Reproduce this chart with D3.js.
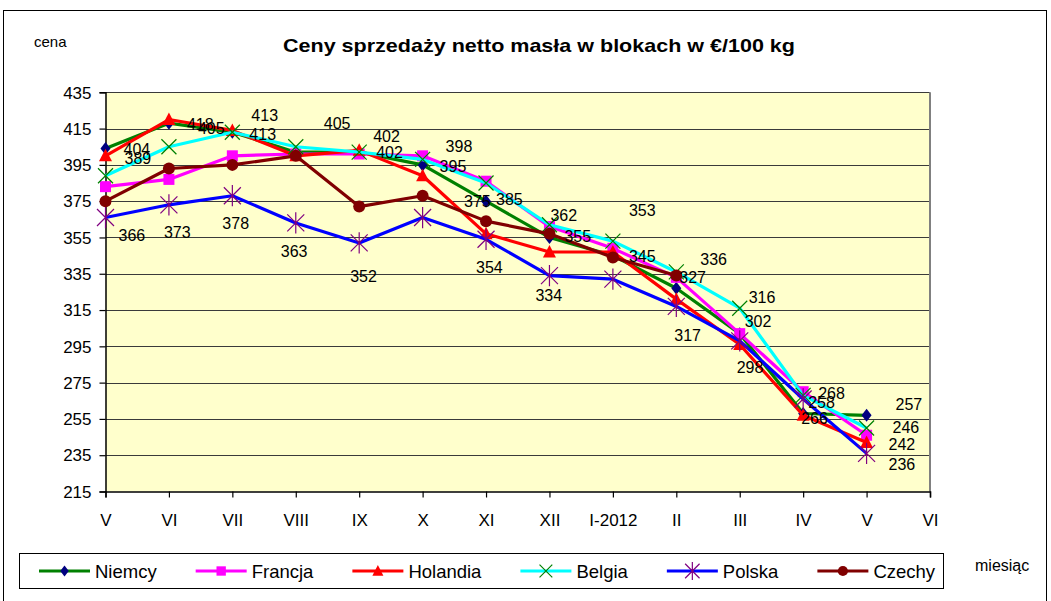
<!DOCTYPE html>
<html><head><meta charset="utf-8">
<script src="https://cdn.jsdelivr.net/npm/d3@7"></script>
<style>
html,body{margin:0;padding:0;background:#fff;}
svg{display:block;font-family:"Liberation Sans",Arial,sans-serif;}
</style></head>
<body><svg id="c" width="1051" height="601"></svg>
<script>
// ---- data ----
const months = ["V","VI","VII","VIII","IX","X","XI","XII","I-2012","II","III","IV","V","VI"];
const yTicks = [215,235,255,275,295,315,335,355,375,395,415,435];
const seriesNames = ["Niemcy","Francja","Holandia","Belgia","Polska","Czechy"];
const niemcy   = [404,418,413,402,402,395,375,355,345,327,302,258,257];
const francja  = [383,387,400,401,401,400,386,361,349,333,302,270,246];
const holandia = [400,420,414,400,403,389,357,347,347,321,296,257,242];
const belgia   = [389,405,413,405,402,398,385,362,353,336,316,268,250];
const polska   = [366,373,378,363,352,366,354,334,332,317,298,266,236];
const czechy   = [375,393,395,400,372,378,364,357,344,334,null,null,null];
const seriesValues = [niemcy,francja,holandia,belgia,polska,czechy];
// which points carry a value label (series, month index)
const labelledPoints = [
 ["Niemcy",0],["Belgia",0],["Polska",0],
 ["Niemcy",1],["Belgia",1],["Polska",1],
 ["Belgia",2],["Niemcy",2],["Polska",2],
 ["Belgia",3],["Polska",3],
 ["Belgia",4],["Niemcy",4],["Polska",4],
 ["Belgia",5],["Niemcy",5],
 ["Niemcy",6],["Belgia",6],["Polska",6],
 ["Belgia",7],["Niemcy",7],["Polska",7],
 ["Belgia",8],["Niemcy",8],
 ["Belgia",9],["Niemcy",9],["Polska",9],
 ["Belgia",10],["Niemcy",10],["Polska",10],
 ["Belgia",11],["Niemcy",11],["Polska",11],
 ["Niemcy",12],["Francja",12],["Holandia",12],["Polska",12]
];

// ---- layout / style ----
const labelOffsets = [
 [18,1],[19,-18],[13,18],
 [18,1],[29,-18],[-5,27],
 [19,-17],[17,2],[-10,28],
 [28,-23],[-15,28],
 [14,-16],[17,0],[-9,33],
 [23,-13],[17,1],
 [-22,0],[10,16],[-10,28],
 [1,-10],[15,-1],[-14,20],
 [16,-31],[16,1],
 [24,-13],[3,-11],[-2,29],
 [9,-11],[5,-12],[-3,26],
 [15,-2],[5,-11],[-2,19],
 [29,-11],[26,-8],[22,2],[22,11]
];
const lineColors = ["#008000","#FF00FF","#FF0000","#00FFFF","#0000FF","#800000"];
const markerColors = ["#000080","#FF00FF","#FF0000","#008000","#800080","#800000"];
const markerTypes = ["diamond","square","triangle","x","star","circle"];

const svg = d3.select("#c");
const plot = {l:105.5, r:930, t:92.3, b:491.5};
const FONT = '"Liberation Sans",Arial,sans-serif';

// outer border
svg.append("rect").attr("x",3.5).attr("y",10.5).attr("width",1043).attr("height",620)
  .attr("fill","#fff").attr("stroke","#000").attr("stroke-width",1);

const x = d3.scalePoint().domain(d3.range(months.length)).range([plot.l, plot.r]).padding(0);
const y = d3.scaleLinear().domain([215,435]).range([plot.b, plot.t]);

// plot background
svg.append("rect").attr("x",plot.l).attr("y",plot.t).attr("width",plot.r-plot.l).attr("height",plot.b-plot.t)
  .attr("fill","#FFFFCC");

// gridlines
svg.append("g").selectAll("line").data(yTicks.filter(v=>v>215)).join("line")
  .attr("x1",plot.l).attr("x2",plot.r)
  .attr("y1",d=>Math.round(y(d))+0.5).attr("y2",d=>Math.round(y(d))+0.5)
  .attr("stroke","#3a3a3a").attr("stroke-width",1);
// right border
svg.append("line").attr("x1",plot.r).attr("x2",plot.r).attr("y1",plot.t).attr("y2",plot.b)
  .attr("stroke","#808080").attr("stroke-width",2);

// axes
const yAxis = d3.axisLeft(y).tickValues(yTicks).tickSize(6).tickPadding(8).tickFormat(d3.format("d"));
const gy = svg.append("g").attr("transform",`translate(${plot.l},0)`).call(yAxis);
const xAxis = d3.axisBottom(x).tickSize(6).tickPadding(16).tickFormat(i=>months[i]);
const gx = svg.append("g").attr("transform",`translate(0,${plot.b})`).call(xAxis);
[gy,gx].forEach(g=>{
  g.select(".domain").attr("stroke","#000").attr("stroke-width",1.5);
  g.selectAll(".tick line").attr("stroke","#000").attr("stroke-width",1.2);
  g.selectAll(".tick text").attr("fill","#000").style("font-family",FONT).style("font-size","17px");
});
gy.selectAll(".tick text").attr("dy","0.34em");

// marker drawing
function drawMarker(g, type, color, cx, cy, k){
  k = k||1;
  if(type==="diamond"){
    g.append("path").attr("d",`M${cx},${cy-6.5*k}L${cx+5*k},${cy}L${cx},${cy+6.5*k}L${cx-5*k},${cy}Z`).attr("fill",color);
  } else if(type==="square"){
    const s=5.5*k;
    g.append("rect").attr("x",cx-s).attr("y",cy-s).attr("width",2*s).attr("height",2*s).attr("fill",color);
  } else if(type==="triangle"){
    g.append("path").attr("d",`M${cx},${cy-7*k}L${cx+6.5*k},${cy+5.5*k}L${cx-6.5*k},${cy+5.5*k}Z`).attr("fill",color);
  } else if(type==="x"){
    const s=7.5*k;
    g.append("path").attr("d",`M${cx-s},${cy-s}L${cx+s},${cy+s}M${cx+s},${cy-s}L${cx-s},${cy+s}`)
      .attr("stroke",color).attr("stroke-width",1.2).attr("fill","none");
  } else if(type==="star"){
    const s=8.5*k;
    g.append("path").attr("d",`M${cx-s},${cy-s}L${cx+s},${cy+s}M${cx+s},${cy-s}L${cx-s},${cy+s}M${cx},${cy-s*1.25}L${cx},${cy+s*1.25}`)
      .attr("stroke",color).attr("stroke-width",1.2).attr("fill","none");
  } else if(type==="circle"){
    g.append("circle").attr("cx",cx).attr("cy",cy).attr("r",6*k).attr("fill",color);
  }
}

// series
const line = d3.line().defined(d=>d!=null).x((d,i)=>x(i)).y(d=>y(d));
seriesValues.forEach((vals,si)=>{
  const g = svg.append("g");
  g.append("path").datum(vals).attr("d",line).attr("fill","none")
    .attr("stroke",lineColors[si]).attr("stroke-width",3.2).attr("stroke-linejoin","round");
  vals.forEach((v,i)=>{ if(v!=null) drawMarker(g, markerTypes[si], markerColors[si], x(i), y(v)); });
});

// value labels
const gl = svg.append("g");
labelledPoints.forEach(([name,i],k)=>{
  const si = seriesNames.indexOf(name);
  const v = seriesValues[si][i];
  const [dx,dy] = labelOffsets[k];
  gl.append("text").attr("x",x(i)+dx).attr("y",y(v)+dy).attr("dy","0.36em")
    .style("font-family",FONT).style("font-size","16px").attr("fill","#000").text(v);
});

// title & axis titles
svg.append("text").attr("x",539).attr("y",52).attr("text-anchor","middle")
  .style("font-family",FONT).style("font-size","19px").style("font-weight","bold")
  .attr("textLength",512).attr("lengthAdjust","spacingAndGlyphs")
  .text("Ceny sprzedaży netto masła w blokach w €/100 kg");
svg.append("text").attr("x",34).attr("y",47).style("font-family",FONT).style("font-size","15px").text("cena");
svg.append("text").attr("x",975).attr("y",571).style("font-family",FONT).style("font-size","16px").text("miesiąc");

// legend
const lg = svg.append("g");
lg.append("rect").attr("x",19.5).attr("y",553.5).attr("width",924).attr("height",35)
  .attr("fill","#fff").attr("stroke","#000").attr("stroke-width",1);
let lx = 39;
const ly = 571;
seriesNames.forEach((name,si)=>{
  lg.append("line").attr("x1",lx).attr("x2",lx+51).attr("y1",ly).attr("y2",ly)
    .attr("stroke",lineColors[si]).attr("stroke-width",3.2);
  drawMarker(lg, markerTypes[si], markerColors[si], lx+25.5, ly, 0.85);
  const t = lg.append("text").attr("x",lx+56).attr("y",ly).attr("dy","0.36em")
    .style("font-family",FONT).style("font-size","18.5px").text(name);
  lx += 56 + t.node().getComputedTextLength() + 39;
});
</script></body></html>
